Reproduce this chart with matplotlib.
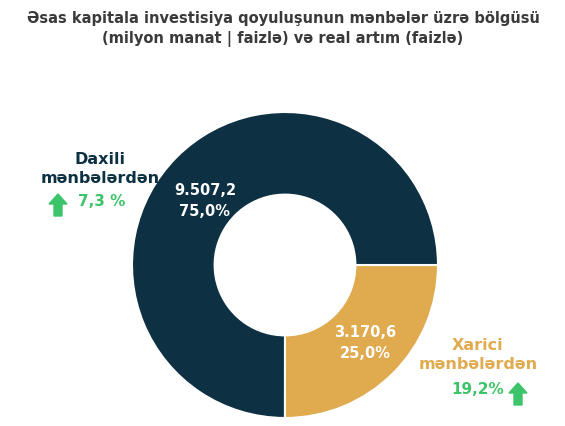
import matplotlib.pyplot as plt
from matplotlib.patches import FancyArrow

labels = ["Xarici mənbələrdən", "Daxili mənbələrdən"]
values = [3170.6, 9507.2]
shares = ["25,0%", "75,0%"]
amounts = ["3.170,6", "9.507,2"]
growth = ["19,2%", "7,3 %"]
colors = ["#e0aa4e", "#0d3042"]

W, H = 565, 426
fig = plt.figure(figsize=(W / 100, H / 100), dpi=100)

# donut
ax = fig.add_axes([(285 - 153) / W, (H - 265 - 153) / H, 306 / W, 306 / H])
ax.pie(values, colors=colors, startangle=0, counterclock=False,
       wedgeprops=dict(width=0.54, edgecolor="white", linewidth=1.5))
ax.set_xlim(-1, 1)
ax.set_ylim(-1, 1)
ax.set_aspect("equal")

# overlay in pixel coordinates
ov = fig.add_axes([0, 0, 1, 1], facecolor="none")
ov.set_xlim(0, W)
ov.set_ylim(H, 0)
ov.axis("off")

ov.text(283, 29, "Əsas kapitala investisiya qoyuluşunun mənbələr üzrə bölgüsü\n(milyon manat | faizlə) və real artım (faizlə)",
        ha="center", va="center", fontsize=10.5, fontweight="bold", color="#3a3a3a", linespacing=1.35)

ov.text(205, 201, f"{amounts[1]}\n{shares[1]}", ha="center", va="center",
        fontsize=10.5, fontweight="bold", color="white", linespacing=1.5)
ov.text(365, 343, f"{amounts[0]}\n{shares[0]}", ha="center", va="center",
        fontsize=10.5, fontweight="bold", color="white", linespacing=1.5)

ov.text(100, 169, "Daxili\nmənbələrdən", ha="center", va="center",
        fontsize=11.5, fontweight="bold", color=colors[1], linespacing=1.3)
ov.text(78, 201, growth[1], ha="left", va="center", fontsize=11, fontweight="bold", color="#3dc46a")
ov.add_patch(FancyArrow(58, 216, 0, -22, width=8, head_width=18, head_length=10,
                        length_includes_head=True, color="#3dc46a"))

ov.text(478, 355, "Xarici\nmənbələrdən", ha="center", va="center",
        fontsize=11.5, fontweight="bold", color=colors[0], linespacing=1.3)
ov.text(478, 389, growth[0], ha="center", va="center", fontsize=11, fontweight="bold", color="#3dc46a")
ov.add_patch(FancyArrow(518, 405, 0, -22, width=8, head_width=18, head_length=10,
                        length_includes_head=True, color="#3dc46a"))

fig.savefig("out.png", dpi=100)
